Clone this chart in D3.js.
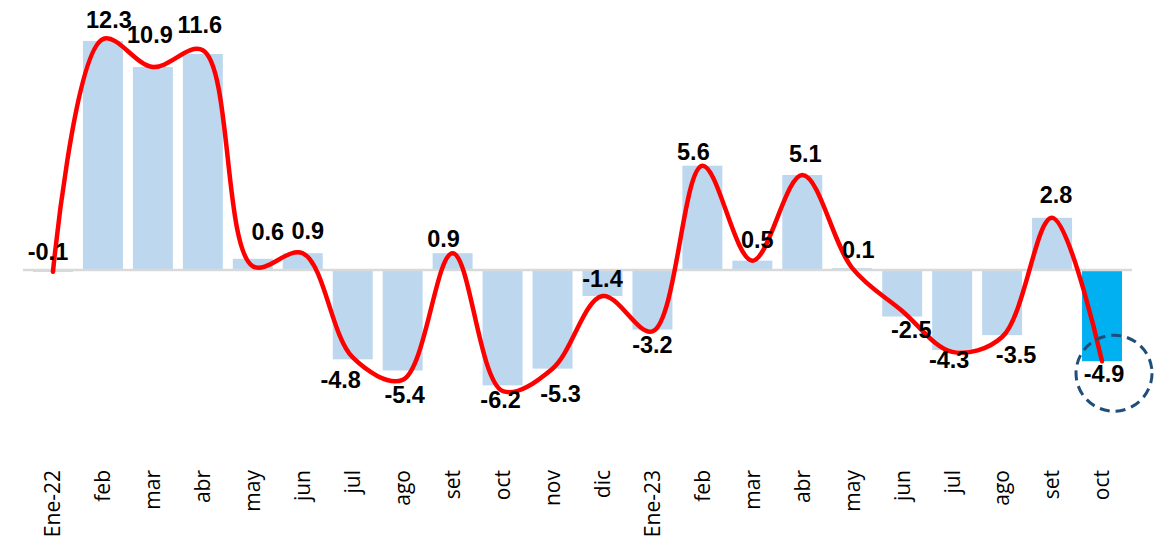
<!DOCTYPE html>
<html>
<head>
<meta charset="utf-8">
<script src="https://cdn.jsdelivr.net/npm/d3@7"></script>
<style>
    body { margin: 0; background: #fff; }
    svg { display: block; }
</style>
</head>
<body>
<div id="chart"></div>
<script>
// categories on the x axis
const months = ["Ene-22", "feb", "mar", "abr", "may", "jun", "jul", "ago", "set", "oct", "nov", "dic",
    "Ene-23", "feb", "mar", "abr", "may", "jun", "jul", "ago", "set", "oct"];
// bar values (labels shown on the chart)
const barValues = [-0.1, 12.3, 10.9, 11.6, 0.6, 0.9, -4.8, -5.4, 0.9, -6.2, -5.3, -1.4,
    -3.2, 5.6, 0.5, 5.1, 0.1, -2.5, -4.3, -3.5, 2.8, -4.9];
// smoothed red line
const lineValues = [-0.1, 12.4, 10.9, 11.8, 0.2, 0.9, -4.7, -5.9, 0.9, -6.5, -5.3, -1.4,
    -3.3, 5.6, 0.5, 5.1, 0.1, -2.2, -4.4, -3.6, 2.8, -4.9];

// small nudges for the data labels [dx, dy] (layout only)
const labelNudge = [[-5, -40], [6, 1], [-3, -10], [-3, -7], [15, -5], [5, 0], [-12, 1], [2, 4],
    [-9, 8], [-2, -5], [8, 5], [0, -37], [0, -5], [-9, 8], [5, 1], [3, 1], [6, 4], [9, -7],
    [-3, -10], [14, 0], [4, -1], [2, -7]];

const width = 1158;
const height = 541;

const svg = d3.select("#chart")
    .append("svg")
    .attr("width", width)
    .attr("height", height);

const idx = months.map((m, i) => i);

// x scale (one band per month)
const xScale = d3.scaleBand()
    .domain(idx)
    .range([23, 1132])
    .padding(0.2);

const yScale = d3.scaleLinear()
    .domain([-7, 14])
    .range([400.3, 9.3]);

const cx = i => xScale(i) + xScale.bandwidth() / 2;

// bars
svg.selectAll(".bar")
    .data(barValues)
    .join("rect")
    .attr("class", "bar")
    .attr("x", (d, i) => xScale(i))
    .attr("width", xScale.bandwidth())
    .attr("y", d => yScale(Math.max(0, d)))
    .attr("height", d => Math.abs(yScale(d) - yScale(0)))
    .attr("fill", (d, i) => i === barValues.length - 1 ? "#00b0f0" : "#bdd7ee");

// zero line
svg.append("line")
    .attr("x1", 23)
    .attr("x2", 1132)
    .attr("y1", yScale(0))
    .attr("y2", yScale(0))
    .attr("stroke", "#d9d9d9")
    .attr("stroke-width", 2.5);

// smoothed red line
const redLine = d3.line()
    .x((d, i) => cx(i))
    .y(d => yScale(d))
    .curve(d3.curveCatmullRom.alpha(0.5));

svg.append("path")
    .datum(lineValues)
    .attr("fill", "none")
    .attr("stroke", "#ff0000")
    .attr("stroke-width", 4.5)
    .attr("stroke-linecap", "round")
    .attr("d", redLine);

// data labels
svg.selectAll(".value-label")
    .data(barValues)
    .join("text")
    .attr("class", "value-label")
    .attr("x", (d, i) => cx(i) + labelNudge[i][0])
    .attr("y", (d, i) => (d >= 0 ? yScale(d) - 14 : yScale(d) + 28) + labelNudge[i][1])
    .attr("text-anchor", "middle")
    .style("font-family", "'Liberation Sans', Arial, sans-serif")
    .style("font-weight", "bold")
    .style("font-size", "23.5px")
    .attr("fill", "#000")
    .text(d => d.toFixed(1));

// x axis labels (rotated)
svg.selectAll(".x-axis-label")
    .data(months)
    .join("text")
    .attr("class", "x-axis-label")
    .attr("transform", (d, i) => `translate(${cx(i)},470) rotate(-90)`)
    .attr("dy", "0.35em")
    .attr("text-anchor", "end")
    .style("font-family", "'Open Sans', sans-serif")
    .style("font-size", "21px")
    .attr("fill", "#000")
    .text(d => d);

// dashed circle around the last value
const last = barValues.length - 1;
svg.append("ellipse")
    .attr("cx", cx(last) + 12)
    .attr("cy", yScale(barValues[last]) + 12)
    .attr("rx", 38)
    .attr("ry", 38)
    .attr("fill", "none")
    .attr("stroke", "#1f4e79")
    .attr("stroke-width", 3)
    .attr("stroke-dasharray", "10,6");
</script>
</body>
</html>
